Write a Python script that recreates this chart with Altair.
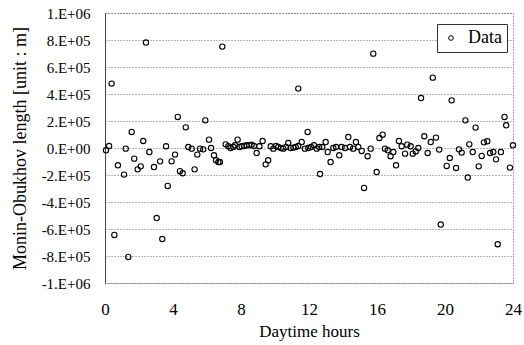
import altair as alt
import pandas as pd

# Daytime hours (x) and Monin-Obukhov length in units of 1E+05 m (y)
hours = [0.06, 0.24, 0.39, 0.55, 0.76, 1.12, 1.22, 1.37, 1.57, 1.72, 1.92, 2.10, 2.25, 2.41,
         2.61, 2.88, 3.04, 3.24, 3.37, 3.59, 3.69, 3.92, 4.12, 4.28, 4.41, 4.57, 4.75, 4.90,
         5.10, 5.27, 5.43, 5.59, 5.78, 5.90, 6.12, 6.24, 6.41, 6.53, 6.67, 6.76, 6.90, 7.10,
         7.25, 7.39, 7.55, 7.65, 7.80, 7.90, 8.04, 8.18, 8.33, 8.49, 8.63, 8.76, 8.92, 9.08,
         9.27, 9.45, 9.60, 9.75, 9.90, 10.06, 10.19, 10.35, 10.49, 10.65, 10.78, 10.92, 11.08,
         11.22, 11.37, 11.37, 11.57, 11.76, 11.92, 11.96, 12.12, 12.29, 12.45, 12.60, 12.65,
         12.78, 12.98, 13.10, 13.27, 13.43, 13.59, 13.78, 13.92, 14.12, 14.31, 14.41, 14.60,
         14.76, 14.90, 15.10, 15.24, 15.45, 15.63, 15.78, 15.98, 16.14, 16.33, 16.47, 16.63,
         16.80, 16.96, 17.12, 17.29, 17.45, 17.65, 17.78, 17.98, 18.10, 18.28, 18.43, 18.59,
         18.78, 18.98, 19.16, 19.28, 19.47, 19.66, 19.75, 20.10, 20.28, 20.39, 20.65, 20.82,
         20.98, 21.20, 21.34, 21.43, 21.63, 21.80, 21.98, 22.16, 22.29, 22.49, 22.65, 22.84,
         23.00, 23.10, 23.29, 23.50, 23.60, 23.82, 24.00]
length_e5 = [-0.17, 0.15, 4.77, -6.44, -1.28, -1.97, -0.05, -8.07, 1.19, -0.79, -1.58, -1.36,
             0.52, 7.81, -0.30, -1.41, -5.19, -0.99, -6.74, 0.13, -2.81, -0.99, -0.49, 2.30,
             -1.72, -1.87, 1.53, 0.07, -0.05, -1.58, -0.49, -0.05, -0.10, 2.05, 0.62, 0.00,
             -0.54, -0.91, -1.04, -1.04, 7.51, 0.27, 0.13, 0.00, 0.07, 0.20, 0.62, 0.07, 0.13,
             0.15, 0.20, 0.20, 0.25, 0.15, -0.37, 0.13, 0.52, -1.21, -0.91, 0.13, -0.05, 0.15,
             0.07, 0.00, -0.05, 0.07, 0.37, 0.00, 0.03, 0.07, 4.40, 0.15, 0.44, -0.05, 1.19,
             0.00, 0.07, 0.20, -0.05, 0.07, -1.93, 0.07, 0.44, -0.30, -1.04, 0.00, 0.07, -0.54,
             0.07, 0.00, 0.81, 0.07, -0.05, 0.44, 0.07, -0.22, -2.96, -0.61, -0.05, 6.99, -1.78,
             0.74, 0.99, -0.05, -0.17, -0.61, -0.30, -1.28, 0.52, 0.13, -0.42, 0.25, 0.13,
             -0.42, -0.25, 0.00, 3.70, 0.87, -0.37, 0.44, 5.21, 0.77, -0.12, -5.67, -1.33,
             -0.74, 3.53, -1.48, -0.10, -0.34, 2.05, -2.19, 0.27, -0.30, 1.51, -1.36, -0.59,
             0.42, 0.50, -0.37, -0.30, -0.84, -7.13, -0.30, 2.30, 1.68, -1.45, 0.20]

x_ticks = [0, 4, 8, 12, 16, 20, 24]
y_ticks = [-1000000, -800000, -600000, -400000, -200000, 0, 200000, 400000, 600000, 800000, 1000000]
y_labels = ["-1.E+06", "-8.E+05", "-6.E+05", "-4.E+05", "-2.E+05", "0.E+00",
            "2.E+05", "4.E+05", "6.E+05", "8.E+05", "1.E+06"]

df = pd.DataFrame({
    "hours": hours,
    "L": [v * 100000 for v in length_e5],
    "series": ["Data"] * len(hours),
})

label_expr = " : ".join(f"datum.value == {v} ? '{l}'" for v, l in zip(y_ticks, y_labels)) + " : ''"

FONT = "Liberation Serif"

chart = alt.Chart(df).mark_point(
    shape="circle", filled=False, size=28, strokeWidth=1.1, opacity=1
).encode(
    x=alt.X("hours:Q", title="Daytime hours",
            scale=alt.Scale(domain=[0, 24], nice=False, zero=False),
            axis=alt.Axis(values=x_ticks, grid=False, domain=False, ticks=False,
                          labelFont=FONT, labelFontSize=17, labelColor="black",
                          labelPadding=18, labelFlush=False,
                          titleFont=FONT, titleFontSize=17, titleFontWeight="normal",
                          titleColor="black", titlePadding=6)),
    y=alt.Y("L:Q", title="Monin-Obukhov length [unit : m]",
            scale=alt.Scale(domain=[-1000000, 1000000], nice=False),
            axis=alt.Axis(values=y_ticks, labelExpr=label_expr, grid=True,
                          gridColor="#666", gridDash=[1, 2], gridWidth=1,
                          domain=True, domainColor="#444", domainWidth=1,
                          ticks=False, labelFont=FONT, labelFontSize=15,
                          labelColor="black", labelPadding=15,
                          titleFont=FONT, titleFontSize=18, titleFontWeight="normal",
                          titleColor="black", titlePadding=12)),
    color=alt.Color("series:N", title=None,
                    scale=alt.Scale(domain=["Data"], range=["black"]),
                    legend=alt.Legend(orient="none", legendX=332, legendY=11,
                                      strokeColor="#333", fillColor="white",
                                      padding=5, labelFont=FONT, labelFontSize=18,
                                      labelColor="black", symbolType="circle",
                                      symbolSize=22, symbolStrokeWidth=1,
                                      symbolFillColor="white", labelOffset=8)),
).properties(
    width=408, height=270,
    background="white",
    autosize=alt.AutoSizeParams(type="none"),
    padding={"left": 105, "top": 13, "right": 11, "bottom": 62},
).configure_view(
    stroke="#555", strokeDash=[1, 2], strokeWidth=1
)

chart.save("out.html", embed_options={"renderer": "svg", "actions": False})
